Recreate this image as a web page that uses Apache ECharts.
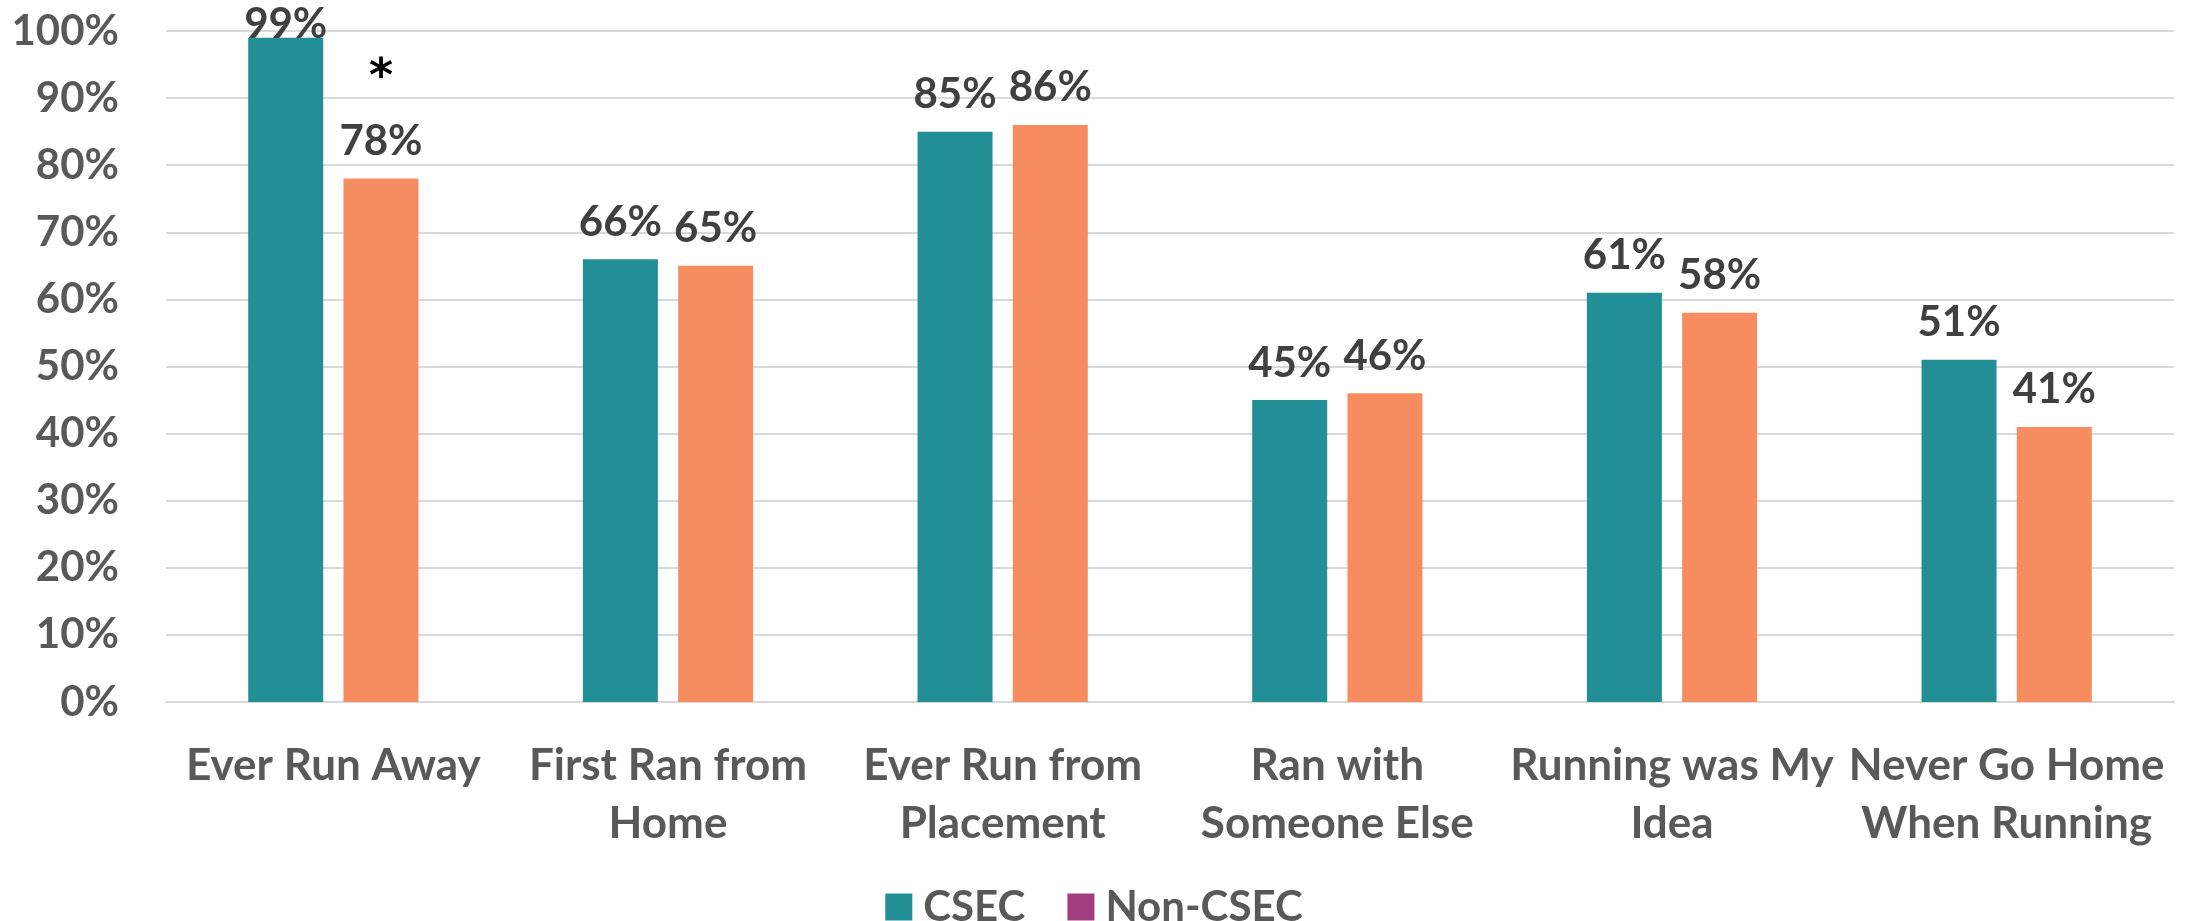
<!DOCTYPE html>
<html>
<head>
<meta charset="utf-8">
<script src="https://cdn.jsdelivr.net/npm/echarts@6/dist/echarts.min.js"></script>
<style>
html,body{margin:0;padding:0;background:#fff;}
#chart{width:2188px;height:921px;}
</style>
</head>
<body>
<div id="chart"></div>
<script>
const categories = ['Ever Run Away', 'First Ran from\nHome', 'Ever Run from\nPlacement', 'Ran with\nSomeone Else', 'Running was My\nIdea', 'Never Go Home\nWhen Running'];
const csec = [99, 66, 85, 45, 61, 51];
const nonCsec = [78, 65, 86, 46, 58, 41];
const seriesNames = ['CSEC', 'Non-CSEC'];
const significant = [true, false, false, false, false, false];

const FONT = 'Lato';
const labelStyle = {
  show: true, position: 'top', distance: 16,
  fontFamily: FONT, fontWeight: 'bold', fontSize: 42, color: '#404040',
  formatter: p => p.value + '%'
};

const csecData = csec.map(v => v >= 95 ? {value: v, label: {distance: -8}} : v);
const nonData = nonCsec.map((v, i) => significant[i] ? {
  value: v,
  label: {
    formatter: '{s|*}\n{v|' + v + '%}',
    rich: {
      s: {fontFamily: 'DejaVu Sans', fontWeight: 'bold', fontSize: 46, color: '#000', lineHeight: 84},
      v: {fontFamily: FONT, fontWeight: 'bold', fontSize: 42, color: '#404040', lineHeight: 42}
    }
  }
} : v);

const chart = echarts.init(document.getElementById('chart'), null, {renderer: 'canvas'});
chart.setOption({
  animation: false,
  backgroundColor: '#fff',
  grid: {left: 166, right: 14, top: 31, bottom: 219, containLabel: false},
  legend: {
    bottom: -12, left: 'center',
    itemWidth: 27, itemHeight: 27, itemGap: 42,
    icon: 'rect',
    textStyle: {fontFamily: FONT, fontWeight: 'bold', fontSize: 42, color: '#595959', padding: [0,0,0,6]},
    data: [
      {name: seriesNames[0], itemStyle: {color: '#228E96'}},
      {name: seriesNames[1], itemStyle: {color: '#A23E7E'}}
    ]
  },
  xAxis: {
    type: 'category', data: categories,
    axisLine: {show: true, lineStyle: {color: '#d9d9d9', width: 2}},
    axisTick: {show: false},
    axisLabel: {interval: 0, margin: 35, fontFamily: FONT, fontWeight: 'bold', fontSize: 44, color: '#595959', lineHeight: 58}
  },
  yAxis: {
    type: 'value', min: 0, max: 100, interval: 10,
    axisLine: {show: false}, axisTick: {show: false},
    splitLine: {lineStyle: {color: '#d9d9d9', width: 2}},
    axisLabel: {margin: 47, fontFamily: FONT, fontWeight: 'bold', fontSize: 42, color: '#595959', formatter: '{value}%'}
  },
  series: [
    {name: seriesNames[0], type: 'bar', data: csecData, barWidth: 75, barGap: '27%',
     itemStyle: {color: '#228E96'}, label: labelStyle},
    {name: seriesNames[1], type: 'bar', data: nonData, barWidth: 75,
     itemStyle: {color: '#F78C60'}, label: labelStyle}
  ]
});
</script>
</body>
</html>
